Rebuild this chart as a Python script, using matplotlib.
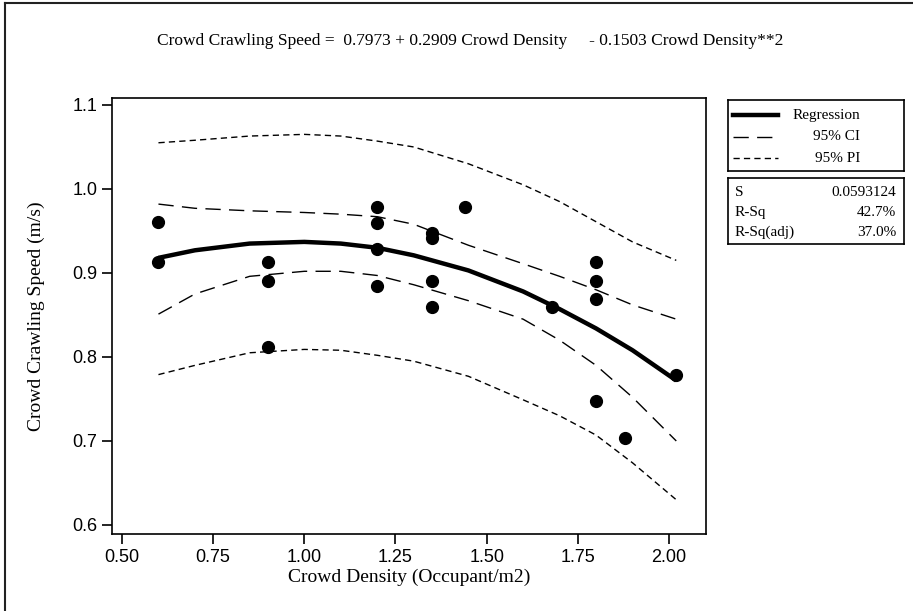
import matplotlib
matplotlib.use("Agg")
import matplotlib.pyplot as plt
from matplotlib.lines import Line2D

# observed data
density = [0.60, 0.60, 0.90, 0.90, 0.90, 1.20, 1.20, 1.20, 1.20,
           1.35, 1.35, 1.35, 1.35, 1.44, 1.68, 1.80, 1.80, 1.80, 1.80, 1.88, 2.02]
speed = [0.961, 0.913, 0.913, 0.890, 0.812, 0.978, 0.960, 0.928, 0.884,
         0.947, 0.942, 0.890, 0.860, 0.978, 0.860, 0.913, 0.890, 0.869, 0.748, 0.703, 0.778]

# fitted line and bands
x_fit = [0.60, 0.70, 0.85, 1.00, 1.10, 1.20, 1.30, 1.45, 1.60, 1.70, 1.80, 1.90, 2.02]
y_fit = [0.918, 0.927, 0.935, 0.937, 0.935, 0.930, 0.921, 0.903, 0.878, 0.857, 0.834, 0.808, 0.772]
ci_up = [0.982, 0.977, 0.974, 0.972, 0.970, 0.967, 0.958, 0.933, 0.911, 0.896, 0.880, 0.862, 0.845]
ci_lo = [0.851, 0.875, 0.896, 0.902, 0.902, 0.897, 0.886, 0.867, 0.845, 0.820, 0.790, 0.752, 0.700]
pi_up = [1.055, 1.058, 1.063, 1.065, 1.063, 1.057, 1.050, 1.030, 1.005, 0.985, 0.961, 0.937, 0.915]
pi_lo = [0.779, 0.790, 0.805, 0.809, 0.808, 0.802, 0.795, 0.777, 0.749, 0.730, 0.707, 0.674, 0.630]

xticks = [0.50, 0.75, 1.00, 1.25, 1.50, 1.75, 2.00]
yticks = [0.6, 0.7, 0.8, 0.9, 1.0, 1.1]

stat_names = ["S", "R-Sq", "R-Sq(adj)"]
stat_vals = ["0.0593124", "42.7%", "37.0%"]

serif = "Liberation Serif"
sans = "Liberation Sans"

fig = plt.figure(figsize=(9.13, 6.11), dpi=100)
W, H = 913, 611

def box(x0, y0, x1, y1):
    return [x0 / W, 1 - y1 / H, (x1 - x0) / W, (y1 - y0) / H]

ax = fig.add_axes(box(112, 98, 706, 534))
ax.plot(x_fit, pi_up, color="black", lw=1.0, dashes=(4.5, 3))
ax.plot(x_fit, pi_lo, color="black", lw=1.0, dashes=(4.5, 3))
ax.plot(x_fit, ci_up, color="black", lw=1.0, dashes=(11, 6))
ax.plot(x_fit, ci_lo, color="black", lw=1.0, dashes=(11, 6))
ax.plot(x_fit, y_fit, color="black", lw=3.2, solid_capstyle="butt")
ax.plot(density, speed, "o", color="black", ms=8.5)

ax.set_xlim(0.4726, 2.1015)
ax.set_ylim(1.1083 - (534 - 98) / 840, 1.1083)
ax.set_xticks(xticks)
ax.set_xticklabels([f"{t:.2f}" for t in xticks], fontfamily=sans, fontsize=13)
ax.set_yticks(yticks)
ax.set_yticklabels([f"{t:.1f}" for t in yticks], fontfamily=sans, fontsize=13)
ax.tick_params(direction="out", length=7, width=1.2, color="black")
for s in ax.spines.values():
    s.set_linewidth(1.2)
ax.set_xlabel("Crowd Density (Occupant/m2)", fontfamily=serif, fontsize=14, labelpad=2)
ax.set_ylabel("Crowd Crawling Speed (m/s)", fontfamily=serif, fontsize=14, labelpad=20)

fig.text(470 / W, 1 - 41 / H,
         "Crowd Crawling Speed =  0.7973 + 0.2909 Crowd Density     - 0.1503 Crowd Density**2",
         ha="center", va="center", fontfamily=serif, fontsize=12.5)

# legend box
lg = fig.add_axes(box(728, 100, 904, 171))
lg.set_xlim(0, 176)
lg.set_ylim(71, 0)
lg.set_xticks([])
lg.set_yticks([])
for s in lg.spines.values():
    s.set_linewidth(1.2)
rows = [("Regression", dict(lw=3.2)), ("95% CI", dict(lw=1.0, dashes=(11, 6))),
        ("95% PI", dict(lw=1.0, dashes=(4.5, 3)))]
for i, (name, style) in enumerate(rows):
    yy = 15 + i * 21.5
    lg.plot([5, 50], [yy, yy], color="black", **style)
    lg.text(132, yy, name, ha="right", va="center", fontfamily=serif, fontsize=11)

# stats box
st = fig.add_axes(box(728, 178, 904, 244))
st.set_xlim(0, 176)
st.set_ylim(66, 0)
st.set_xticks([])
st.set_yticks([])
for s in st.spines.values():
    s.set_linewidth(1.2)
for i, (n, v) in enumerate(zip(stat_names, stat_vals)):
    yy = 15 + i * 19.5
    st.text(7, yy, n, ha="left", va="center", fontfamily=serif, fontsize=11)
    st.text(168, yy, v, ha="right", va="center", fontfamily=serif, fontsize=11)

# outer frame (left and top only)
fig.add_artist(Line2D([5 / W, 5 / W], [0, 1 - 3 / H], color="#222222", lw=1.5))
fig.add_artist(Line2D([5 / W, 1], [1 - 3 / H, 1 - 3 / H], color="#222222", lw=1.5))

fig.savefig("out.png", dpi=100)
